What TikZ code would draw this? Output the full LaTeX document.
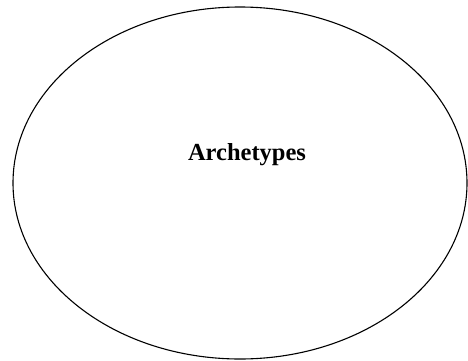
\documentclass[tikz,border=0pt]{standalone}
\usepackage{fontspec}
\setmainfont{Liberation Serif}
\usepackage{tikz}
\usetikzlibrary{shapes.geometric, positioning}

\tikzset{
    archbox/.style={draw, ellipse, line width=1.1pt, minimum width=454pt, minimum height=352pt, inner sep=0pt},
    archtext/.style={font=\fontsize{24.5}{28}\selectfont\bfseries}
}

\begin{document}
\begin{tikzpicture}[x=1pt, y=-1pt]
    % Khung
    \useasboundingbox (0,0) rectangle (468,361);
    
    % Ellipse
    \node[archbox] (arch) at (240,183) {};
    \node[archtext] (archlabel) at (247,155) {Archetypes};
   
\end{tikzpicture}
\end{document}
